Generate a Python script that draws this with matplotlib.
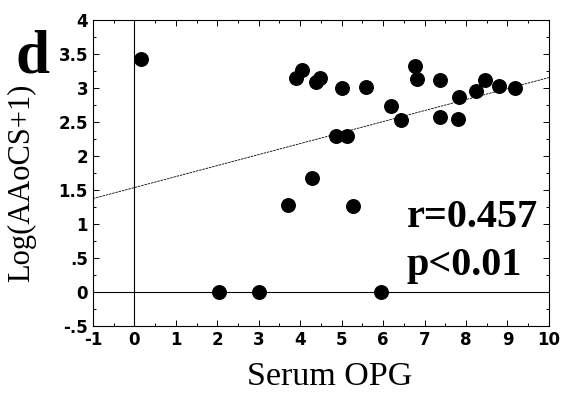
import matplotlib.pyplot as plt
import numpy as np

# Serum OPG vs Log(AAoCS+1)
opg = [0.15, 3.91, 4.05, 4.39, 4.49, 5.00, 5.58, 6.77, 6.82, 7.37,
       6.19, 6.42, 7.83, 7.37, 7.80, 8.23, 8.46, 8.80, 9.18,
       4.86, 5.13, 4.28, 3.71, 5.28, 2.04, 3.00, 5.95]
log_aaocs = [3.44, 3.16, 3.27, 3.10, 3.15, 3.01, 3.02, 3.33, 3.14, 3.12,
             2.74, 2.53, 2.88, 2.58, 2.55, 2.96, 3.12, 3.04, 3.01,
             2.30, 2.30, 1.68, 1.29, 1.27, 0.0, 0.0, 0.0]

# regression line end points
fit_x = [-1, 10]
fit_y = [1.38, 3.16]

xticks = list(range(-1, 11))
yticks = [-0.5, 0, 0.5, 1, 1.5, 2, 2.5, 3, 3.5, 4]
ytick_labels = ['-.5', '0', '.5', '1', '1.5', '2', '2.5', '3', '3.5', '4']

tick_font = dict(family=['Liberation Sans Narrow', 'DejaVu Sans'], weight='bold', size=12)
serif = ['Liberation Serif', 'DejaVu Serif']

fig = plt.figure(figsize=(5.63, 4.01), dpi=100)
ax = fig.add_axes([0.165, 0.186, 0.81, 0.763])

ax.axhline(0, color='black', lw=0.8)
ax.axvline(0, color='black', lw=0.8)
ax.plot(fit_x, fit_y, color='black', lw=0.6, ls=(0, (3, 1)))
ax.scatter(opg, log_aaocs, s=95, color='black', zorder=3)

ax.set_xlim(-1, 10)
ax.set_ylim(-0.5, 4)
ax.set_xticks(xticks)
ax.set_yticks(yticks)
ax.set_xticklabels([str(t) for t in xticks], fontdict=tick_font)
ax.set_yticklabels(ytick_labels, fontdict=tick_font)
ax.set_xticks(np.arange(-1, 10.01, 0.5), minor=True)
ax.set_yticks(np.arange(-0.5, 4.01, 0.25), minor=True)
ax.tick_params(which='both', direction='in', top=True, right=True, width=0.7)
ax.tick_params(which='major', length=4)
ax.tick_params(which='minor', length=2)
for s in ax.spines.values():
    s.set_linewidth(0.8)

ax.set_xlabel('Serum OPG', family=serif, fontsize=24.5)
ax.xaxis.set_label_coords(0.52, -0.115, transform=ax.transAxes)
ax.xaxis.label.set_va('top')
ax.set_ylabel('Log(AAoCS+1)', family=serif, fontsize=22)
ax.yaxis.set_label_coords(-0.125, 0.47)

fig.text(0.027, 0.82, 'd', family=serif, fontsize=44, weight='bold')
ax.text(6.57, 0.96, 'r=0.457', family=serif, fontsize=29, weight='bold')
ax.text(6.57, 0.25, 'p<0.01', family=serif, fontsize=29, weight='bold')

fig.savefig('out.png', dpi=100)
